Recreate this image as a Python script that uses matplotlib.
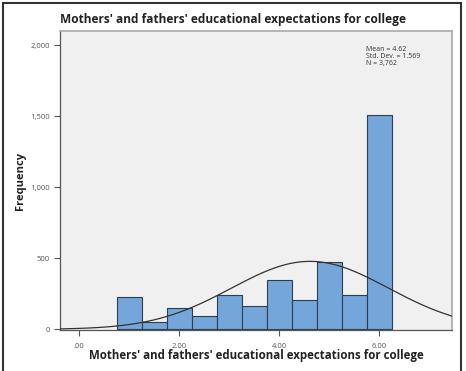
import numpy as np
import matplotlib.pyplot as plt
from matplotlib.patches import Rectangle

# histogram bins (left edges) and counts
bin_left = [0.75, 1.25, 1.75, 2.25, 2.75, 3.25, 3.75, 4.25, 4.75, 5.25, 5.75]
counts = [225, 51, 153, 92, 244, 164, 345, 209, 474, 240, 1510]
bin_w = 0.5

mean = 4.62
sd = 1.569
n = 3762

xticks = [0, 2, 4, 6]
xtick_labels = [".00", "2.00", "4.00", "6.00"]
yticks = [0, 500, 1000, 1500, 2000]
ytick_labels = ["0", "500", "1,000", "1,500", "2,000"]

title = "Mothers' and fathers' educational expectations for college"

plt.rcParams['font.family'] = ['Open Sans', 'DejaVu Sans']

fig = plt.figure(figsize=(4.66, 3.71), dpi=100)
ax = fig.add_axes([60 / 466, 1 - 330 / 371, 392 / 466, 299 / 371])
ax.set_facecolor('#F0F0F0')

ax.bar(bin_left, counts, width=bin_w, align='edge', color='#74A6DA',
       edgecolor='#2E3E52', linewidth=0.8, zorder=2)

# normal curve
xs = np.linspace(-0.38, 7.46, 300)
ys = n * bin_w / (sd * np.sqrt(2 * np.pi)) * np.exp(-0.5 * ((xs - mean) / sd) ** 2)
ax.plot(xs, ys, color='#333333', linewidth=0.9, zorder=3)

ax.set_xlim(-0.38, 7.46)
ax.set_ylim(-5, 2100)
ax.set_xticks(xticks)
ax.set_xticklabels(xtick_labels)
ax.set_yticks(yticks)
ax.set_yticklabels(ytick_labels)
ax.tick_params(labelsize=5.5, colors='#555555', length=4, width=0.8)
ax.tick_params(axis='x', pad=5)

for s in ['left', 'bottom']:
    ax.spines[s].set_color('#555555')
    ax.spines[s].set_linewidth(0.9)
for s in ['top', 'right']:
    ax.spines[s].set_color('#AAAAAA')
    ax.spines[s].set_linewidth(1.2)

ax.set_xlabel(title, fontsize=8.3, fontweight='bold', color='#222222', labelpad=0)
ax.set_ylabel("Frequency", fontsize=8, fontweight='bold', color='#222222')
ax.yaxis.set_label_coords(-34 / 392, 0.5)
fig.text(233 / 466, 1 - 19 / 371, title, ha='center', va='center',
         fontsize=8.6, fontweight='bold', color='#222222')

ax.text(0.78, 0.95, "Mean = %.2f\nStd. Dev. = %.3f\nN = %s" % (mean, sd, format(n, ',')),
        transform=ax.transAxes, ha='left', va='top', fontsize=5,
        color='#333333', linespacing=1.0)

# outer frame around the whole chart
fig.patches.append(Rectangle((3 / 466, -0.05), 458 / 466, 1.05 - 3 / 371, transform=fig.transFigure,
                             fill=False, edgecolor='#333333', linewidth=1.5))

fig.savefig('out.png', dpi=100)
